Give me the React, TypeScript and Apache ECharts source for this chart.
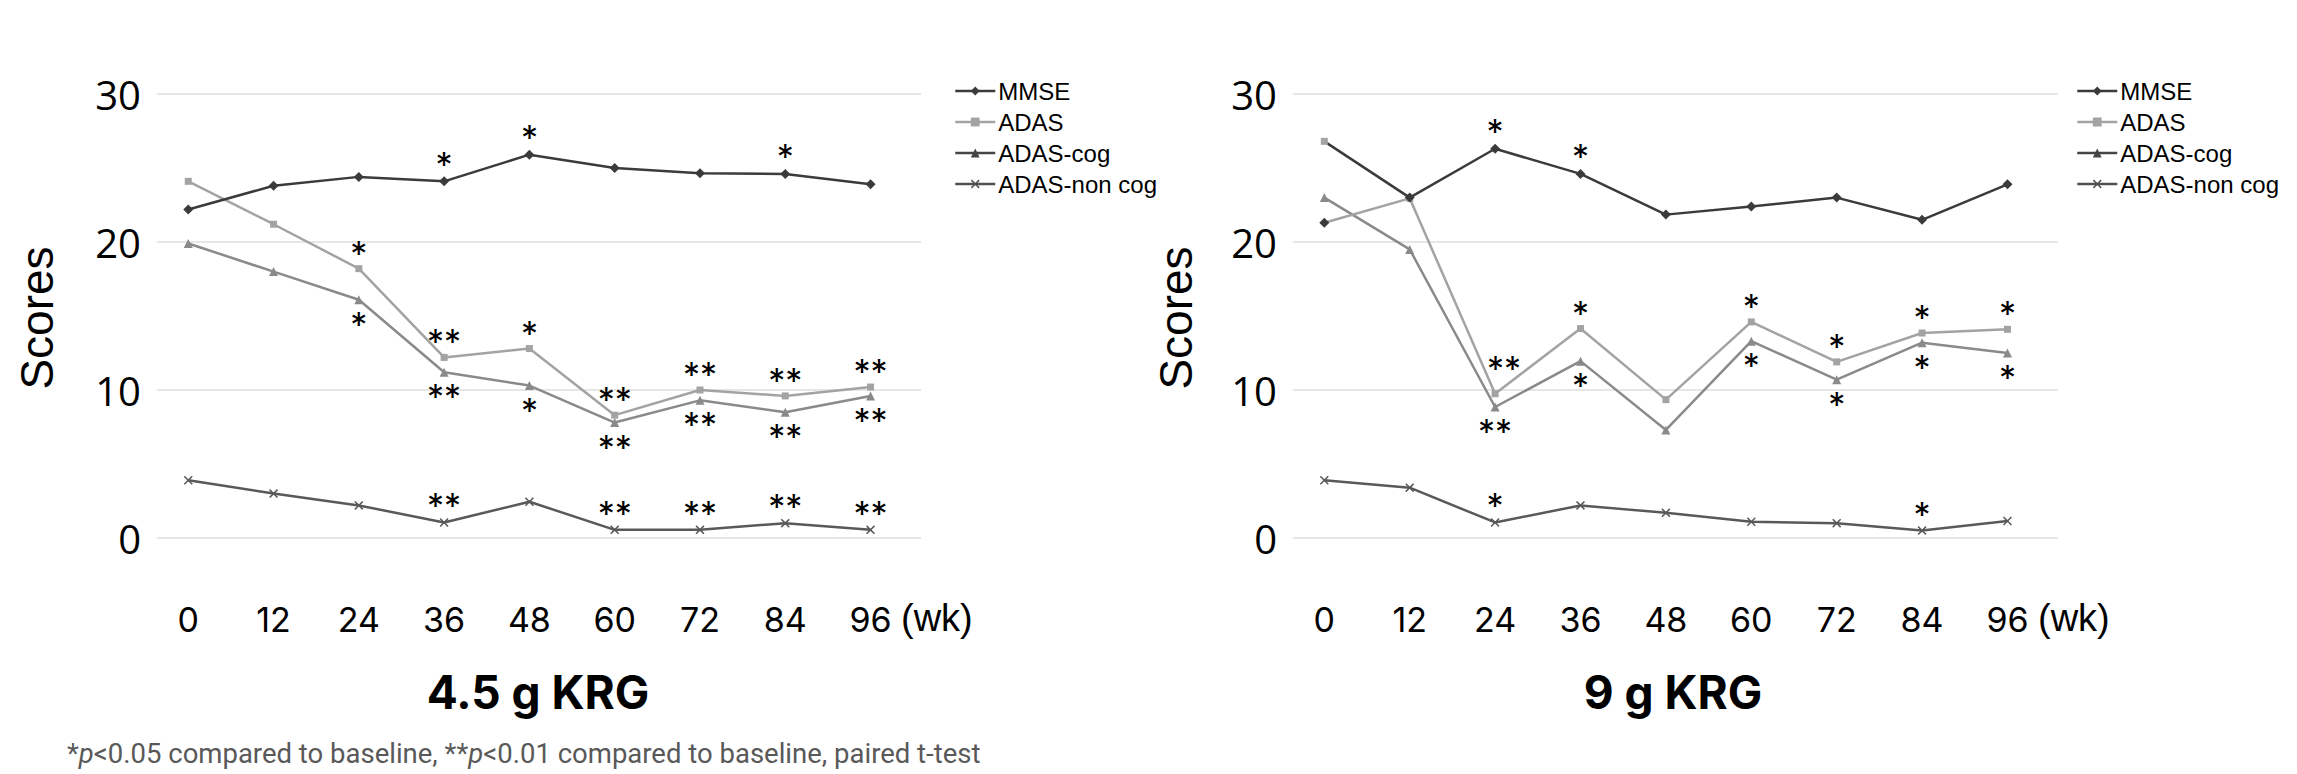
import React, { useEffect, useRef } from "react";
import * as echarts from "echarts";

const weeks = [0, 12, 24, 36, 48, 60, 72, 84, 96];
const seriesNames = ["MMSE", "ADAS", "ADAS-cog", "ADAS-non cog"];
const yTicks = [0, 10, 20, 30];

// 4.5 g KRG
const mmse45 = [22.2, 23.8, 24.4, 24.1, 25.9, 25.0, 24.65, 24.6, 23.9];
const adas45 = [24.1, 21.2, 18.2, 12.2, 12.8, 8.3, 10.0, 9.6, 10.2];
const cog45 = [19.9, 18.0, 16.1, 11.2, 10.3, 7.8, 9.3, 8.5, 9.6];
const noncog45 = [3.9, 3.0, 2.2, 1.05, 2.45, 0.55, 0.55, 1.0, 0.55];

// 9 g KRG (lines as drawn in the figure)
const mmse9 = [26.8, 23.0, 26.3, 24.6, 21.85, 22.4, 23.0, 21.5, 23.9];
const adas9 = [21.3, 22.95, 9.75, 14.15, 9.35, 14.6, 11.9, 13.85, 14.1];
const cog9 = [23.0, 19.5, 8.85, 11.95, 7.3, 13.3, 10.7, 13.2, 12.5];
const noncog9 = [3.9, 3.4, 1.05, 2.2, 1.7, 1.1, 1.0, 0.5, 1.15];

// significance marks
const sigMmse45 = ["", "", "", "*", "*", "", "", "*", ""];
const sigAdas45 = ["", "", "*", "**", "*", "**", "**", "**", "**"];
const sigCog45 = ["", "", "*", "**", "*", "**", "**", "**", "**"];
const sigNon45 = ["", "", "", "**", "", "**", "**", "**", "**"];
const sigMmse9 = ["", "", "*", "*", "", "", "", "", ""];
const sigAdas9 = ["", "", "**", "*", "", "*", "*", "*", "*"];
const sigCog9 = ["", "", "**", "*", "", "*", "*", "*", "*"];
const sigNon9 = ["", "", "*", "", "", "", "", "*", ""];

const titles = ["4.5 g KRG", "9 g KRG"];
const footnote = "*{i|p}<0.05 compared to baseline, **{i|p}<0.01 compared to baseline, paired t-test";

const lineColors = ["#3b3b3b", "#a3a3a3", "#8a8a8a", "#595959"];
const legendColors = ["#3b3b3b", "#a3a3a3", "#454545", "#505050"];
const crossPath =
  "path://M0,1.2L1.2,0L5,3.8L8.8,0L10,1.2L6.2,5L10,8.8L8.8,10L5,6.2L1.2,10L0,8.8L3.8,5Z";
const symbols = ["diamond", "rect", "triangle", crossPath];
const symbolSizes = [10, 7, 9, 9];
const labelPos = ["top", "top", "bottom", "top"];

export default function App() {
  const ref = useRef<HTMLDivElement>(null);
  useEffect(() => {
    if (!ref.current) return;
    const chart = echarts.init(ref.current, undefined, { renderer: "svg" });

    const panels = [
      { vals: [mmse45, adas45, cog45, noncog45], sigs: [sigMmse45, sigAdas45, sigCog45, sigNon45], left: 157, width: 764 },
      { vals: [mmse9, adas9, cog9, noncog9], sigs: [sigMmse9, sigAdas9, sigCog9, sigNon9], left: 1293, width: 765 },
    ];
    const top = 94;
    const height = 444;

    const grids = panels.map((p) => ({ left: p.left, top, width: p.width, height, containLabel: false }));
    const xAxes = panels.map((_, gi) => ({
      type: "value",
      gridIndex: gi,
      min: -4.4,
      max: 103.1,
      axisLine: { show: false },
      axisTick: { show: false },
      splitLine: { show: false },
      axisLabel: {
        customValues: weeks,
        margin: 64,
        fontFamily: "Inter",
        fontSize: 34,
        color: "#000",
      },
    }));
    const yAxes = panels.map((_, gi) => ({
      type: "value",
      gridIndex: gi,
      min: yTicks[0],
      max: yTicks[yTicks.length - 1],
      interval: 10,
      axisLine: { show: false },
      axisTick: { show: false },
      splitLine: { show: true, lineStyle: { color: "#e6e6e6", width: 2 } },
      axisLabel: { margin: 16, fontFamily: "Open Sans", fontSize: 40, color: "#000" },
    }));

    const series: any[] = [];
    panels.forEach((p, gi) => {
      p.vals.forEach((vals, si) => {
        series.push({
          name: seriesNames[si],
          type: "line",
          xAxisIndex: gi,
          yAxisIndex: gi,
          symbol: symbols[si],
          symbolSize: symbolSizes[si],
          lineStyle: { color: lineColors[si], width: 2.5 },
          itemStyle: { color: lineColors[si] },
          z: 10 - si,
          data: vals.map((v, i) => {
            const sig = p.sigs[si][i];
            const item: any = { value: [weeks[i], v] };
            // marker swap at week 0 of the 9 g panel, as drawn
            if (gi === 1 && i === 0 && si === 0) {
              item.symbol = symbols[1];
              item.symbolSize = symbolSizes[1];
              item.itemStyle = { color: lineColors[1] };
            }
            if (gi === 1 && i === 0 && si === 1) {
              item.symbol = symbols[0];
              item.symbolSize = symbolSizes[0];
              item.itemStyle = { color: lineColors[0] };
            }
            if (sig) {
              item.label = {
                show: true,
                formatter: sig,
                position: labelPos[si],
                distance: labelPos[si] === "top" ? -5 : 3,
                offset: gi === 1 && si === 1 && i === 2 ? [9, -10] : [0, 0],
                fontFamily: "Inter",
                fontSize: 34,
                color: "#000",
              };
            }
            return item;
          }),
        });
      });
    });

    const legendBase = {
      orient: "vertical",
      top: 74,
      itemWidth: 40,
      itemHeight: 11,
      itemGap: 7,
      textStyle: { fontFamily: "Liberation Sans", fontSize: 24, color: "#000", padding: [0, 0, 0, -2] },
      data: seriesNames.map((n, i) => ({
        name: n,
        itemStyle: { color: legendColors[i] },
        lineStyle: { color: legendColors[i], width: 2.5 },
      })),
    };

    const graphic: any[] = [];
    [37, 1176].forEach((x) =>
      graphic.push({
        type: "text",
        x,
        y: 318,
        rotation: Math.PI / 2,
        style: {
          text: "Scores",
          fontFamily: "Liberation Sans",
          fontSize: 46,
          fill: "#000",
          align: "center",
          verticalAlign: "middle",
        },
      })
    );
    [901, 2038].forEach((x) =>
      graphic.push({
        type: "text",
        x,
        y: 618,
        style: {
          text: "(wk)",
          fontFamily: "Liberation Sans",
          fontSize: 38,
          fill: "#000",
          align: "left",
          verticalAlign: "middle",
        },
      })
    );
    [538, 1673].forEach((x, i) =>
      graphic.push({
        type: "text",
        x,
        y: 692,
        style: {
          text: titles[i],
          fontFamily: "Inter",
          fontWeight: "bold",
          fontSize: 46,
          fill: "#000",
          align: "center",
          verticalAlign: "middle",
        },
      })
    );
    graphic.push({
      type: "text",
      x: 67,
      y: 753,
      style: {
        text: footnote,
        fontFamily: "Roboto",
        fontSize: 27.5,
        fill: "#595959",
        align: "left",
        verticalAlign: "middle",
        rich: { i: { fontStyle: "italic", fontFamily: "Roboto", fontSize: 27.5, fill: "#595959" } },
      },
    });

    chart.setOption({
      animation: false,
      backgroundColor: "#fff",
      grid: grids,
      xAxis: xAxes,
      yAxis: yAxes,
      legend: [
        { ...legendBase, left: 949 },
        { ...legendBase, left: 2071 },
      ],
      series,
      graphic,
    });
    return () => chart.dispose();
  }, []);
  return <div ref={ref} style={{ position: "fixed", left: 0, top: 0, width: 2297, height: 774 }} />;
}
